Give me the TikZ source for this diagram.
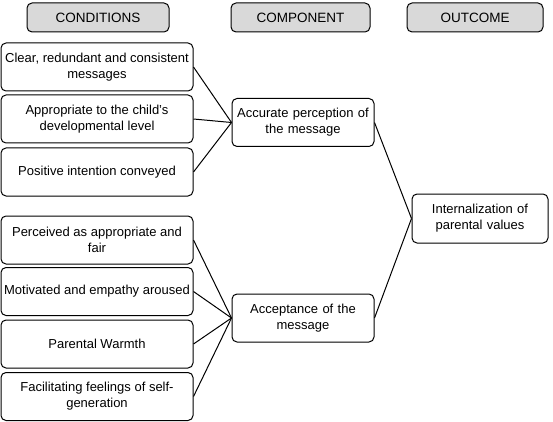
\documentclass[tikz,border=0pt]{standalone}
\usepackage{fontspec}
\setmainfont{Liberation Sans}
\begin{document}
\begin{tikzpicture}[x=1pt,y=-1pt,
  hdr/.style={draw=black,line width=1pt,rounded corners=5pt,fill=gray!30,minimum width=#1,minimum height=29pt,inner sep=0pt,font=\fontsize{13.5}{15}\selectfont},
  hdr/.default=140pt,
  cbox/.style={draw=black,line width=1pt,rounded corners=5pt,fill=white,minimum width=192pt,minimum height=48pt,inner sep=1pt,align=center,font=\fontsize{13}{16}\selectfont},
  mbox/.style={draw=black,line width=1pt,rounded corners=5pt,fill=white,minimum width=142pt,minimum height=48pt,inner sep=1pt,align=center,font=\fontsize{13}{16}\selectfont,text width=140pt},
  obox/.style={draw=black,line width=1pt,rounded corners=5pt,fill=white,minimum width=136pt,minimum height=49pt,inner sep=1pt,align=center,font=\fontsize{13}{16}\selectfont,text width=134pt},
  link/.style={draw=black,line width=1pt}]
\useasboundingbox (0,0) rectangle (553,422);
\node[hdr=142pt] (h1) at (98,17.5) {CONDITIONS};
\node[hdr=139pt] (h2) at (300.5,17.5) {COMPONENT};
\node[hdr=136pt] (h3) at (475,17.5) {OUTCOME};
\node[cbox] (c1) at (97,67) {Clear, redundant and consistent\\messages};
\node[cbox] (c2) at (97,119) {Appropriate to the child's\\developmental level};
\node[cbox] (c3) at (97,172) {Positive intention conveyed};
\node[cbox] (c4) at (97,240) {Perceived as appropriate and\\fair};
\node[cbox] (c5) at (97,291.5) {Motivated and empathy aroused};
\node[cbox] (c6) at (97,344) {Parental Warmth};
\node[cbox] (c7) at (97,396.5) {Facilitating feelings of self-\\generation};
\node[mbox] (m1) at (303,122.5) {Accurate perception of\\the message};
\node[mbox] (m2) at (303,318) {Acceptance of the\\message};
\node[obox] (o1) at (480,218.5) {Internalization of\\parental values};
\foreach \c in {c1,c2,c3} \draw[link] (\c.east) -- (m1.west);
\foreach \c in {c4,c5,c6,c7} \draw[link] (\c.east) -- (m2.west);
\draw[link] (m1.east) -- (o1.west);
\draw[link] (m2.east) -- (o1.west);
\end{tikzpicture}
\end{document}
